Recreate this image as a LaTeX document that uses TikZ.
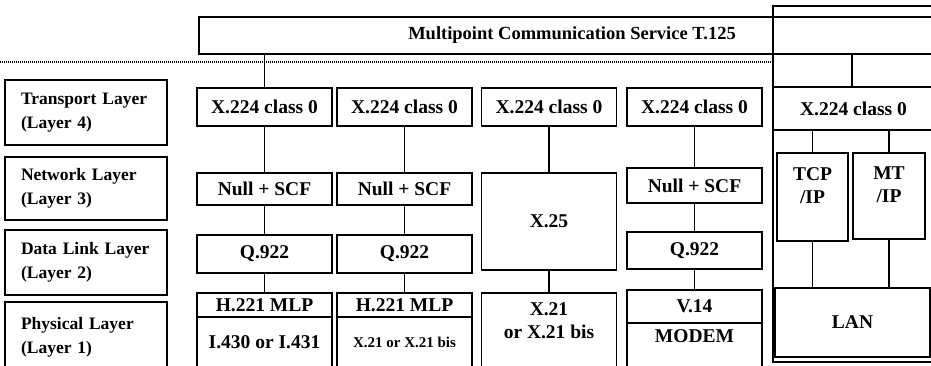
\documentclass[tikz,border=0pt]{standalone}
\usepackage{fontspec}
\setmainfont{Liberation Serif}
\usetikzlibrary{positioning}

\begin{document}
\begin{tikzpicture}[x=1pt, y=-1pt,
  every node/.style={font=\fontsize{19.5}{23}\selectfont\bfseries},
  block/.style={rectangle, draw, line width=1.6pt, inner sep=0pt,
                minimum width=135pt, align=center},
  layer/.style={block, minimum width=162pt, text width=130pt, align=left,
                font=\fontsize{17.5}{24}\selectfont\bfseries},
  frame/.style={rectangle, draw, line width=2pt, inner sep=0pt},
  link/.style={line width=1.6pt}]
  \useasboundingbox (0,0) rectangle (931,365);
  % service on top
  \node[block, minimum width=746pt, minimum height=37pt,
        font=\fontsize{18.5}{23}\selectfont\bfseries] (mcs) at (572,35.5) {Multipoint Communication Service T.125};
  % layer names
  \node[layer, minimum height=65pt] (transport) at (86,112.5) {Transport Layer\\(Layer 4)};
  \node[layer, minimum height=63pt] (network) at (86,188.5) {Network Layer\\(Layer 3)};
  \node[layer, minimum height=65pt] (datalink) at (86,262.5) {Data Link Layer\\(Layer 2)};
  \node[layer, minimum height=70pt] (physical) at (86,337) {Physical Layer\\(Layer 1)};
  % first stack
  \node[block, minimum height=38pt] (isdnx) at (264.5,107) {X.224 class 0};
  \node[block, minimum height=32pt] (isdnnull) at (264.5,189) {Null + SCF};
  \node[block, minimum height=38pt] (isdnq) at (264.5,254) {Q.922};
  \node[block, minimum height=24pt] (isdnh) at (264.5,305) {H.221 MLP};
  \node[block, minimum height=51pt] (isdnphy) at (264.5,342.5) {I.430 or I.431};
  % second stack
  \node[block, minimum height=38pt] (csdnx) at (404.5,107) {X.224 class 0};
  \node[block, minimum height=32pt] (csdnnull) at (404.5,189) {Null + SCF};
  \node[block, minimum height=38pt] (csdnq) at (404.5,254) {Q.922};
  \node[block, minimum height=24pt] (csdnh) at (404.5,305) {H.221 MLP};
  \node[block, minimum height=51pt, font=\fontsize{15}{18}\selectfont\bfseries] (csdnphy) at (404.5,342.5) {X.21 or X.21 bis};
  % third stack
  \node[block, minimum height=38pt] (psdnx) at (549,107) {X.224 class 0};
  \node[block, minimum height=97pt] (psdnnet) at (549,221.5) {X.25};
  \node[block, minimum height=75pt, text depth=19pt] (psdnphy) at (549,330.5) {X.21\\or X.21 bis};
  % fourth stack
  \node[block, minimum height=38pt] (pstnx) at (694.5,107) {X.224 class 0};
  \node[block, minimum height=35pt] (pstnnull) at (694.5,185.5) {Null + SCF};
  \node[block, minimum height=37pt] (pstnq) at (694.5,250.5) {Q.922};
  \node[block, minimum height=33pt] (pstnv) at (694.5,306.5) {V.14};
  \node[block, minimum height=45pt, text depth=18pt] (pstnmodem) at (694.5,345.5) {MODEM};
  % LAN stack
  \node[frame, minimum width=161pt, minimum height=356pt] (lanframe) at (853.5,184) {};
  \node[block, minimum width=79pt, minimum height=33pt] (lancella) at (812.5,70.5) {};
  \node[block, minimum width=82pt, minimum height=33pt] (lancellb) at (893,70.5) {};
  \node[block, minimum width=161pt, minimum height=43pt] (lanx) at (853.5,108.5) {X.224 class 0};
  \node[block, minimum width=71pt, minimum height=88pt, text depth=22pt] (tcp) at (812.5,197) {TCP\\/IP};
  \node[block, minimum width=72pt, minimum height=86pt, text depth=22pt] (mtip) at (889,196) {MT\\/IP};
  \node[block, minimum width=155pt, minimum height=69pt] (lan) at (852.5,322.5) {LAN};
  % dotted divider
  \coordinate (dotstart) at (0,62);
  \draw[line width=1.3pt, dash pattern=on 1pt off 1pt] (dotstart) -- (dotstart -| lanframe.west);
  % connections
  \draw[link] (mcs.south -| isdnx) -- (isdnx);
  \draw[link] (isdnx) -- (isdnnull);
  \draw[link] (isdnnull) -- (isdnq);
  \draw[link] (isdnq) -- (isdnh);
  \draw[link] (csdnx) -- (csdnnull);
  \draw[link] (csdnnull) -- (csdnq);
  \draw[link] (csdnq) -- (csdnh);
  \draw[link] (psdnx) -- (psdnnet);
  \draw[link] (psdnnet) -- (psdnphy);
  \draw[link] (pstnx) -- (pstnnull);
  \draw[link] (pstnnull) -- (pstnq);
  \draw[link] (pstnq) -- (pstnv);
  \draw[link] (lanx.south -| tcp) -- (tcp);
  \draw[link] (lanx.south -| mtip) -- (mtip);
  \draw[link] (tcp) -- (tcp |- lan.north);
  \draw[link] (mtip) -- (mtip |- lan.north);
\end{tikzpicture}
\end{document}
